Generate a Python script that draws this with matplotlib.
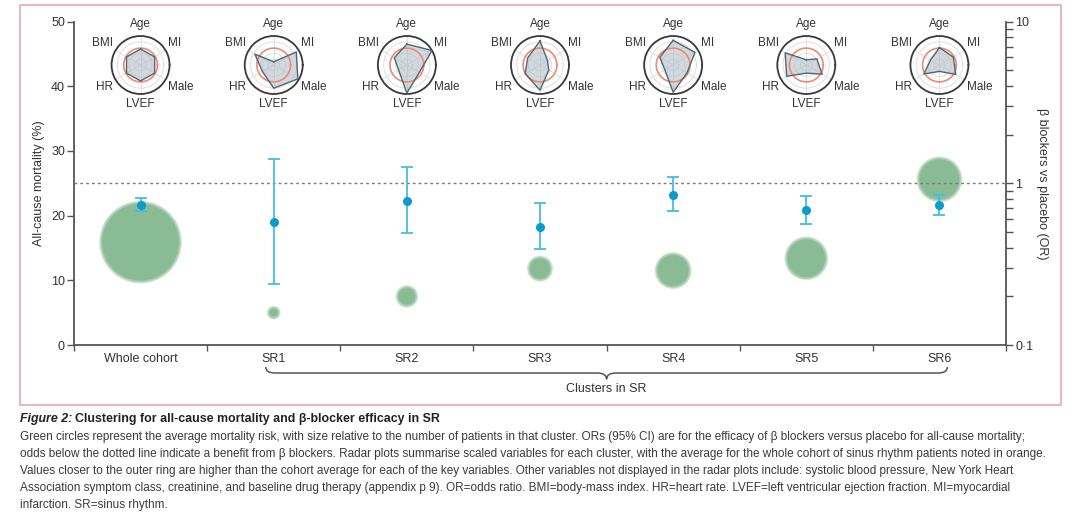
import numpy as np
import matplotlib
matplotlib.use('Agg')
import matplotlib.pyplot as plt
from matplotlib import font_manager as fm
from matplotlib.patches import Rectangle, PathPatch
from matplotlib.path import Path
from matplotlib.ticker import FixedLocator, FixedFormatter, LogLocator, NullFormatter
import matplotlib.transforms as mtransforms

# Datos
categorias = ['Whole cohort', 'SR1', 'SR2', 'SR3', 'SR4', 'SR5', 'SR6']
mortalidad = [15.9, 5.0, 7.5, 11.8, 11.5, 13.4, 25.6]          # %
n_pacientes = [15659, 460, 1200, 1590, 3150, 4420, 4840]       # tamaño del circulo
or_est = [0.73, 0.58, 0.78, 0.54, 0.85, 0.68, 0.73]
or_inf = [0.67, 0.24, 0.49, 0.39, 0.67, 0.56, 0.64]
or_sup = [0.81, 1.41, 1.26, 0.76, 1.09, 0.83, 0.85]

variables_radar = ['Age', 'MI', 'Male', 'LVEF', 'HR', 'BMI']
promedio_radar = 0.58
radar_whole = [0.55, 0.56, 0.56, 0.55, 0.56, 0.56]
radar_sr1 = [0.11, 0.90, 0.96, 0.80, 0.45, 0.75]
radar_sr2 = [0.72, 1.00, 0.50, 0.97, 0.33, 0.50]
radar_sr3 = [0.83, 0.30, 0.35, 0.87, 0.59, 0.49]
radar_sr4 = [0.85, 0.87, 0.55, 0.94, 0.33, 0.53]
radar_sr5 = [0.18, 0.42, 0.63, 0.28, 0.78, 0.84]
radar_sr6 = [0.60, 0.55, 0.65, 0.22, 0.62, 0.35]
radares = [radar_whole, radar_sr1, radar_sr2, radar_sr3, radar_sr4, radar_sr5, radar_sr6]

# Fuente estrecha si existe
nombres = {f.name for f in fm.fontManager.ttflist}
if 'Liberation Sans Narrow' in nombres:
    plt.rcParams['font.family'] = ['Liberation Sans Narrow', 'DejaVu Sans']
else:
    plt.rcParams['font.family'] = ['Liberation Sans', 'DejaVu Sans']

gris_eje = '#555555'
gris_txt = '#333333'
verde = '#89bb94'
fs = 9

W, H = 1080, 522
fig = plt.figure(figsize=(W / 100, H / 100), dpi=100)

# Marco rosa
fig.add_artist(Rectangle((20 / W, (H - 405) / H), 1041 / W, 400 / H, transform=fig.transFigure,
                         fill=False, edgecolor='#eaa6b9', lw=1.2))

ax = fig.add_axes([74 / W, 177 / H, 932 / W, 323.5 / H])
x = np.arange(len(categorias))
ax.set_xlim(-0.5, len(categorias) - 0.5)
ax.set_ylim(0, 50)

# Circulos verdes con borde difuso
d_pt = np.sqrt(np.array(n_pacientes) * 0.2283)
difuso = 2.4
for k in range(10):
    d = d_pt - 2 * difuso * k / 9
    ax.scatter(x, mortalidad, s=d ** 2, color=verde, alpha=0.16, lw=0, zorder=2)
ax.scatter(x, mortalidad, s=(d_pt - 2 * difuso) ** 2, color=verde, lw=0, zorder=3)

for lado in ['top', 'right']:
    ax.spines[lado].set_visible(False)
for lado in ['left', 'bottom']:
    ax.spines[lado].set_color(gris_eje)
    ax.spines[lado].set_linewidth(1.3)

ax.set_yticks([0, 10, 20, 30, 40, 50])
ax.tick_params(axis='y', direction='out', length=5, width=1, color=gris_eje,
               labelsize=fs, labelcolor=gris_txt, pad=1.5)
ax.set_xticks(np.arange(-0.5, len(categorias), 1))
ax.set_xticklabels([])
ax.set_xticks(x, minor=True)
ax.set_xticklabels(categorias, minor=True)
ax.tick_params(axis='x', which='major', direction='out', length=4, width=1, color=gris_eje)
ax.tick_params(axis='x', which='minor', length=0, pad=6, labelsize=fs, labelcolor=gris_txt)
ax.set_ylabel('All-cause mortality (%)', fontsize=fs, color=gris_txt, labelpad=4)

# Eje derecho: OR
ax2 = ax.twinx()
ax2.set_yscale('log')
ax2.set_ylim(0.1, 10)
for lado in ['top', 'left', 'bottom']:
    ax2.spines[lado].set_visible(False)
ax2.spines['right'].set_color(gris_eje)
ax2.spines['right'].set_linewidth(1.3)
ax2.yaxis.set_major_locator(FixedLocator([0.1, 1, 10]))
ax2.yaxis.set_major_formatter(FixedFormatter(['0·1', '1', '10']))
ax2.yaxis.set_minor_locator(LogLocator(base=10, subs=np.arange(2, 10)))
ax2.yaxis.set_minor_formatter(NullFormatter())
ax2.tick_params(axis='y', which='both', direction='out', length=5, width=1, color=gris_eje,
                labelsize=fs, labelcolor=gris_txt, pad=1.5)
ax2.set_ylabel('β blockers vs placebo (OR)', rotation=270, fontsize=fs, color=gris_txt, labelpad=11)

ax2.axhline(1, color='#7a7a7a', lw=1, ls=(0, (2, 2.2)), zorder=1)
yerr = [np.array(or_est) - np.array(or_inf), np.array(or_sup) - np.array(or_est)]
ax2.errorbar(x, or_est, yerr=yerr, fmt='o', color='#0b9ccb', ecolor='#45bde0',
             elinewidth=1.3, capsize=4, capthick=1.3, ms=5.5, zorder=4)

# Llave bajo SR1..SR6
tr = mtransforms.blended_transform_factory(ax.transData, ax.transAxes)
x0, x1, xm = 0.94, 6.06, 3.5
y_ext, y_lin, y_pico = -0.068, -0.0866, -0.106
vert = [(x0, y_ext), (x0, y_lin), (x0 + 0.07, y_lin),
        (xm - 0.07, y_lin), (xm, y_lin), (xm, y_pico),
        (xm, y_lin), (xm + 0.07, y_lin),
        (x1 - 0.07, y_lin), (x1, y_lin), (x1, y_ext)]
cod = [Path.MOVETO, Path.CURVE3, Path.CURVE3,
       Path.LINETO, Path.CURVE3, Path.CURVE3,
       Path.CURVE3, Path.CURVE3,
       Path.LINETO, Path.CURVE3, Path.CURVE3]
ax.add_patch(PathPatch(Path(vert, cod), transform=tr, fill=False, edgecolor=gris_eje, lw=1.1,
                       clip_on=False))
ax.text(xm, -0.137, 'Clusters in SR', transform=tr, ha='center', va='center',
        fontsize=fs, color=gris_txt)

# Radares
angulos = np.deg2rad([90, 30, 330, 270, 210, 150])
alineacion = [('center', 'bottom', 1.2), ('left', 'bottom', 1.1), ('left', 'top', 1.1),
              ('center', 'top', 1.14), ('right', 'top', 1.1), ('right', 'bottom', 1.1)]
rw, rh = 58 / W, 58 / H
yc = 1 - 65 / H
circ = np.linspace(0, 2 * np.pi, 200)
for i, vals in enumerate(radares):
    px = ax.transData.transform((x[i], 0))[0]
    xf = px / fig.bbox.width
    ra = fig.add_axes([xf - rw / 2, yc - rh / 2, rw, rh], projection='polar')
    ra.set_xticks(angulos)
    ra.set_xticklabels([])
    ra.set_xlim(0, 2 * np.pi)
    ra.set_ylim(0, 1)
    ra.set_yticks([0.2, 0.4, 0.6, 0.8])
    ra.set_yticklabels([])
    ra.tick_params(axis='both', length=0)
    ra.grid(color='#dedede', lw=0.7)
    ra.spines['polar'].set_color('#3a3a3a')
    ra.spines['polar'].set_linewidth(1.3)
    ra.spines['polar'].set_capstyle('round')
    a = np.append(angulos, angulos[0])
    v = np.append(vals, vals[0])
    ra.fill(a, v, color='#b5c0c8', alpha=0.6, lw=0, zorder=2)
    ra.plot(circ, np.full_like(circ, promedio_radar), color='#f2876b', lw=1.1, zorder=3)
    ra.plot(a, v, color='#4f6675', lw=1, zorder=4)
    for ang, nom, (ha, va, rr) in zip(angulos, variables_radar, alineacion):
        ra.text(ang, rr, nom, ha=ha, va=va, fontsize=8.5, color=gris_txt, clip_on=False)

# Pie de figura
r = fig.canvas.get_renderer()
lineas = [
    'Green circles represent the average mortality risk, with size relative to the number of patients in that cluster. ORs (95% CI) are for the efficacy of β blockers versus placebo for all-cause mortality;',
    'odds below the dotted line indicate a benefit from β blockers. Radar plots summarise scaled variables for each cluster, with the average for the whole cohort of sinus rhythm patients noted in orange.',
    'Values closer to the outer ring are higher than the cohort average for each of the key variables. Other variables not displayed in the radar plots include: systolic blood pressure, New York Heart',
    'Association symptom class, creatinine, and baseline drug therapy (appendix p 9). OR=odds ratio. BMI=body-mass index. HR=heart rate. LVEF=left ventricular ejection fraction. MI=myocardial',
    'infarction. SR=sinus rhythm.',
]
y_lineas = [437, 454, 471, 488, 505]
prueba = fig.text(0, 0, lineas[1], fontsize=10)
tam = 10 * 1030 / prueba.get_window_extent(r).width
prueba.remove()
for texto, yy in zip(lineas, y_lineas):
    fig.text(20 / W, 1 - yy / H, texto, fontsize=tam, color='#3a3a3a', ha='left', va='center')

t1 = fig.text(20 / W, 1 - 419 / H, 'Figure 2:', fontsize=tam * 1.05, style='italic',
              fontweight='bold', color='#222222', va='center')
w1 = t1.get_window_extent(r).width
fig.text((20 + w1 + 3) / W, 1 - 419 / H, 'Clustering for all-cause mortality and β-blocker efficacy in SR',
         fontsize=tam * 1.05, fontweight='bold', color='#222222', va='center')

fig.savefig('out.png', dpi=100)
